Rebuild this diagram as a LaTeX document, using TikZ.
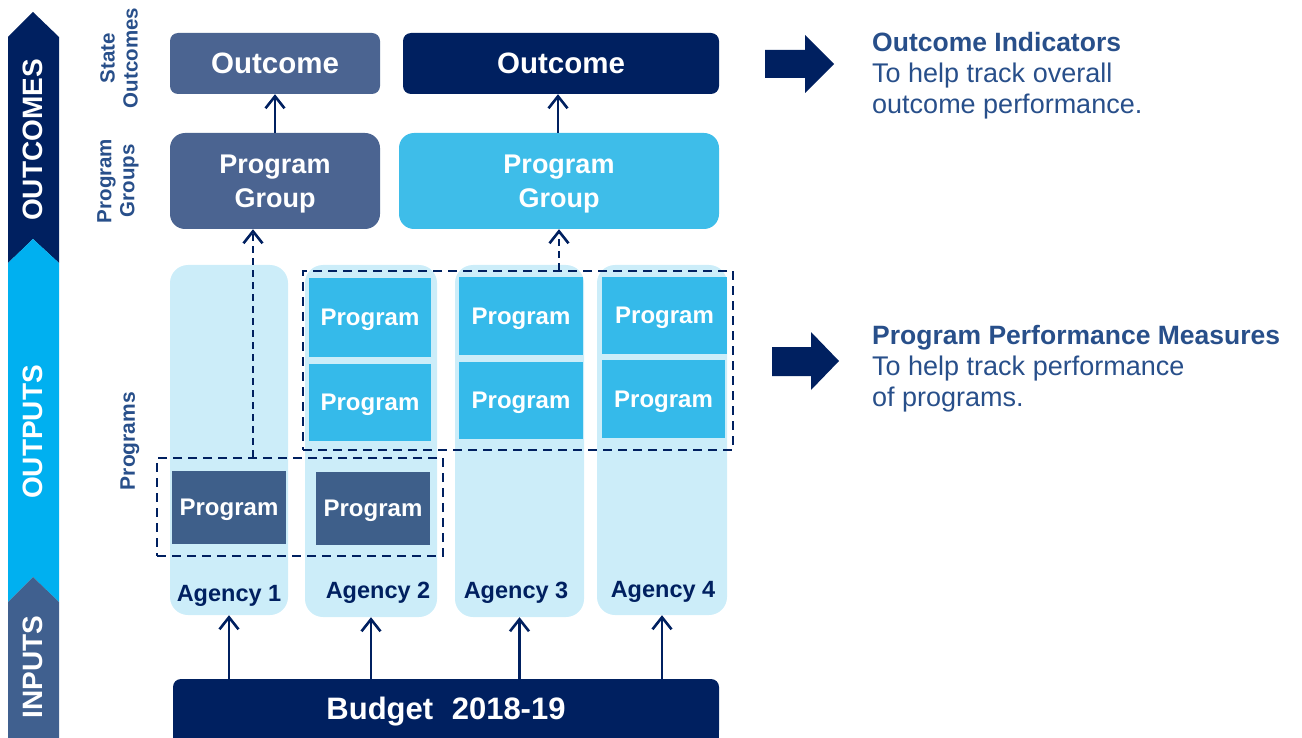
\documentclass[tikz,border=0pt]{standalone}
\usepackage{fontspec}
\setmainfont{Liberation Sans}
\usetikzlibrary{arrows.meta,calc}

\definecolor{navy}{HTML}{002060}
\definecolor{skyband}{HTML}{00B0F0}
\definecolor{steel}{HTML}{40608F}
\definecolor{slate}{HTML}{4B6491}
\definecolor{darkprog}{HTML}{3E5F8A}
\definecolor{progblue}{HTML}{35BAEA}
\definecolor{groupblue}{HTML}{3EBDE9}
\definecolor{agencybg}{HTML}{CCEDF9}
\definecolor{labelblue}{HTML}{284F8A}

\newcommand\setfs[2]{\fontsize{#1}{#2}\selectfont}

\begin{document}
\begin{tikzpicture}[x=1pt,y=-1pt,
  box/.style={inner sep=0pt, text=white, font=\bfseries\setfs{24}{30}, align=center, text depth=0pt},
  outcomebox/.style={box, rounded corners=8pt, font=\bfseries\setfs{29.5}{33}},
  groupbox/.style={box, rounded corners=15pt, font=\bfseries\setfs{27}{34}},
  progbox/.style={box, fill=progblue},
  darkbox/.style={box, fill=darkprog},
  agencycol/.style={fill=agencybg, rounded corners=18pt, inner sep=0pt},
  agencylabel/.style={text=navy, font=\bfseries\setfs{23.5}{28}, inner sep=0pt, text depth=0pt},
  grouping/.style={draw=navy, line width=2.8pt, dash pattern=on 9pt off 6pt, inner sep=0pt},
  uparrow/.style={draw=navy, line width=2.6pt, -{Straight Barb[length=12pt,width=19pt]}},
  dasharrow/.style={uparrow, dash pattern=on 7pt off 5pt},
  bandlabel/.style={rotate=90, text=white, font=\bfseries\setfs{28}{32}, inner sep=0pt},
  rowlabel/.style={rotate=90, text=labelblue, font=\bfseries\setfs{20.5}{23}, align=center, inner sep=0pt},
  sidetext/.style={text=labelblue, font=\setfs{27}{31}, align=left, inner sep=0pt, anchor=north west}
]
\useasboundingbox (0,0) rectangle (1302,738);

% stage band on the left
\fill[navy] (8,37) -- (33,12) -- (59,37) -- (59,263) -- (33,239) -- (8,263) -- cycle;
\fill[skyband] (8,263) -- (33,239) -- (59,263) -- (59,602) -- (33,577) -- (8,602) -- cycle;
\fill[steel] (8,602) -- (33,577) -- (59,602) -- (59,738) -- (8,738) -- cycle;
\node[bandlabel] (lout) at (33,140) {OUTCOMES};
\node[bandlabel] (lput) at (33,432) {OUTPUTS};
\node[bandlabel] (linp) at (33,667) {INPUTS};

% row labels
\node[rowlabel] (rstate) at (119,58) {State\\Outcomes};
\node[rowlabel] (rgroup) at (118,181) {Program\\Groups};
\node[rowlabel, font=\bfseries\setfs{21}{24}] (rprog) at (130,441) {Programs};

% outcomes and program groups
\node[outcomebox, fill=slate, minimum width=210pt, minimum height=61pt] (o1) at (275,63.5) {Outcome};
\node[outcomebox, fill=navy, minimum width=316pt, minimum height=61pt] (o2) at (561,63.5) {Outcome};
\node[groupbox, fill=slate, minimum width=210pt, minimum height=96pt] (g1) at (275,181) {Program\\Group};
\node[groupbox, fill=groupblue, minimum width=320pt, minimum height=96pt] (g2) at (559,181) {Program\\Group};

% agency columns
\node[agencycol, minimum width=118pt, minimum height=350pt] (c1) at (229,440) {};
\node[agencycol, minimum width=132pt, minimum height=352pt] (c2) at (371,441) {};
\node[agencycol, minimum width=129pt, minimum height=352pt] (c3) at (519.5,441) {};
\node[agencycol, minimum width=130pt, minimum height=350pt] (c4) at (662,440) {};

% programs
\node[progbox, minimum width=122pt, minimum height=79pt] (p21) at (370,317.5) {Program};
\node[progbox, minimum width=122pt, minimum height=77pt] (p22) at (370,402.5) {Program};
\node[progbox, minimum width=124pt, minimum height=78pt] (p31) at (521,316) {Program};
\node[progbox, minimum width=124pt, minimum height=77pt] (p32) at (521,400.5) {Program};
\node[progbox, minimum width=125pt, minimum height=77pt] (p41) at (664.5,315.5) {Program};
\node[progbox, minimum width=123pt, minimum height=78pt] (p42) at (663.5,399) {Program};
\node[darkbox, minimum width=114pt, minimum height=73pt] (d1) at (229,507.5) {Program};
\node[darkbox, minimum width=114pt, minimum height=73pt] (d2) at (373,508.5) {Program};

% agency names
\node[agencylabel] (a1) at (229,593) {Agency 1};
\node[agencylabel] (a2) at (378,590) {Agency 2};
\node[agencylabel] (a3) at (516,590) {Agency 3};
\node[agencylabel] (a4) at (663,589) {Agency 4};

% program groupings
\node[grouping, minimum width=430pt, minimum height=179pt] (gbig) at (518,360.5) {};
\node[grouping, minimum width=286pt, minimum height=98pt] (gsmall) at (300,507) {};

% budget: rounded on top, square where it meets the page edge
\fill[navy] (173,700) rectangle (719,738);
\node[box, fill=navy, rounded corners=8pt, minimum width=546pt, minimum height=59pt,
      font=\bfseries\setfs{31}{36}] (budget) at (446,708.5) {Budget\hspace{0.6em}2018-19};

% connectors
\coordinate (t1) at (253,0);
\coordinate (t2) at (558,0);
\draw[uparrow] (g1.north) -- (o1.south);
\draw[uparrow] (g2.north -| t2) -- (o2.south -| t2);
\draw[dasharrow] (gsmall.north -| t1) -- (g1.south -| t1);
\draw[dasharrow] (gbig.north -| g2.south) -- (g2.south);
\foreach \c in {c1,c2,c3,c4}
  \draw[uparrow] (budget.north -| \c.south) -- (\c.south);

% indicator arrows and notes
\fill[navy] (765,50) -- (805,50) -- (805,35) -- (834,64) -- (805,93) -- (805,78) -- (765,78) -- cycle;
\fill[navy] (772,347) -- (811,347) -- (811,332) -- (839,361) -- (811,390) -- (811,376) -- (772,376) -- cycle;
\node[sidetext] (n1) at (872,32) {{\bfseries\setfs{26.5}{31}Outcome Indicators}\\To help track overall\\outcome performance.};
\node[sidetext] (n2) at (872,325) {{\bfseries\setfs{26.5}{31}Program Performance Measures}\\To help track performance\\of programs.};
\end{tikzpicture}
\end{document}
